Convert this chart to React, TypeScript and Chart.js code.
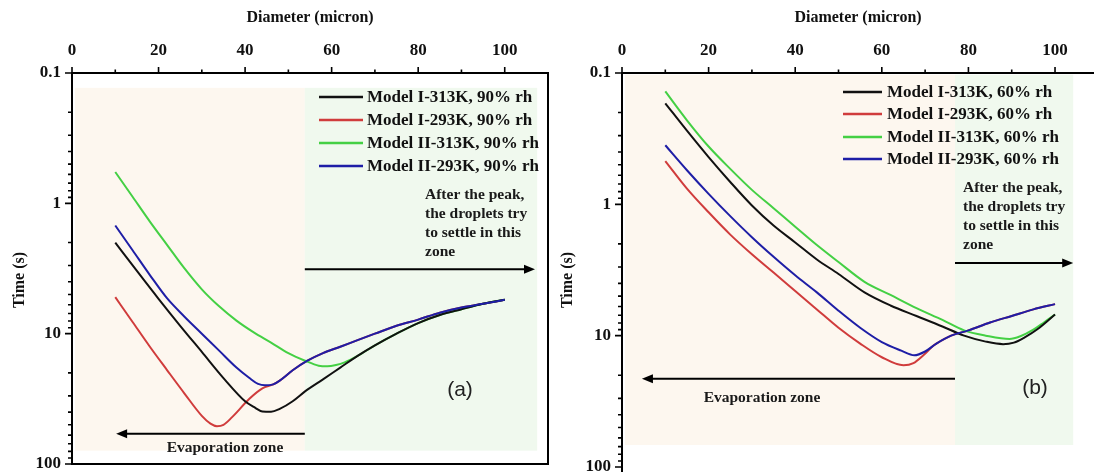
import { useEffect, useRef } from "react";
import { Chart, registerables } from "chart.js";

Chart.register(...registerables);

// ---------- axes ----------
const DIAMETER_TICKS = [0, 20, 40, 60, 80, 100];
const DIAMETER_MINOR = [10, 30, 50, 70, 90];
const TIME_TICKS = [0.1, 1, 10, 100];

// ---------- series names ----------
const LABELS_90 = [
  "Model I-313K, 90% rh",
  "Model I-293K, 90% rh",
  "Model II-313K, 90% rh",
  "Model II-293K, 90% rh",
];
const LABELS_60 = [
  "Model I-313K, 60% rh",
  "Model I-293K, 60% rh",
  "Model II-313K, 60% rh",
  "Model II-293K, 60% rh",
];

// ---------- panel (a): 90% rh, diameter (micron) vs time (s) ----------
const A_I313_D = [10, 15, 20, 25, 30, 35, 40, 42, 44, 46, 48, 51, 54, 58, 62, 66, 70, 75, 80, 85, 90, 95, 100];
const A_I313_T = [2.0, 3.3, 5.4, 8.7, 13.8, 21.9, 33.0, 36.5, 39.5, 39.8, 37.8, 33.0, 27.5, 22.4, 18.2, 14.8, 12.3, 10.0, 8.3, 7.2, 6.5, 5.9, 5.5];

const A_I293_D = [10, 14, 18, 22, 26, 30, 32, 33.5, 35, 37, 41, 44, 46.5, 48, 51, 54.3, 58, 62, 66, 70, 75, 80, 85, 90, 95, 100];
const A_I293_T = [5.25, 8.13, 12.6, 19.1, 28.8, 42.7, 49.0, 51.3, 50.1, 43.7, 31.6, 26.3, 24.5, 22.9, 19.1, 16.2, 14.1, 12.6, 11.2, 10.0, 8.7, 7.8, 6.9, 6.3, 5.9, 5.5];

const A_II313_D = [10, 14, 18, 22, 26, 30, 34, 38, 42, 46, 50, 54, 57, 59, 61, 63, 66, 70, 75, 80, 85, 90, 95, 100];
const A_II313_T = [0.575, 0.89, 1.38, 2.09, 3.16, 4.57, 6.17, 7.94, 9.77, 11.7, 14.1, 16.2, 17.6, 17.8, 17.4, 16.6, 14.8, 12.3, 10.0, 8.3, 7.2, 6.5, 5.9, 5.5];

const A_II293_D = [10, 14, 18, 22, 26, 30, 34, 38, 41, 43, 44.6, 46.5, 48, 51, 54.3, 58, 62, 66, 70, 75, 80, 85, 90, 95, 100];
const A_II293_T = [1.48, 2.29, 3.55, 5.37, 7.41, 10.0, 13.5, 18.2, 21.9, 24.3, 24.9, 24.5, 22.9, 19.1, 16.2, 14.1, 12.6, 11.2, 10.0, 8.7, 7.8, 6.9, 6.3, 5.9, 5.5];

// ---------- panel (b): 60% rh ----------
const B_I313_D = [10, 15, 20, 25, 30, 35, 40, 45, 50, 56, 62, 68, 74, 79, 84, 88, 90.5, 93, 96, 100];
const B_I313_T = [0.17, 0.275, 0.437, 0.676, 1.02, 1.45, 1.95, 2.63, 3.39, 4.68, 5.89, 7.08, 8.51, 10.0, 11.1, 11.6, 11.3, 10.3, 8.9, 6.9];

const B_I293_D = [10, 15, 20, 25, 30, 35, 40, 45, 50, 55, 60, 65, 67.3, 69.6, 71.8, 72.6, 76, 80, 85, 90, 95, 100];
const B_I293_T = [0.468, 0.759, 1.15, 1.7, 2.4, 3.31, 4.57, 6.31, 8.71, 11.5, 14.6, 16.8, 16.2, 14.1, 12.0, 11.5, 10.0, 9.12, 7.94, 7.08, 6.31, 5.75];

const B_II313_D = [10, 15, 20, 25, 30, 35, 40, 45, 50, 56, 62, 68, 74, 79, 84, 89.5, 92, 95, 97.5, 100];
const B_II313_T = [0.138, 0.229, 0.363, 0.537, 0.776, 1.07, 1.48, 2.04, 2.75, 3.89, 4.9, 6.17, 7.59, 9.12, 10.0, 10.6, 10.1, 9.0, 7.9, 6.9];

const B_II293_D = [10, 15, 20, 25, 30, 35, 40, 45, 50, 55, 60, 64.5, 67.5, 70, 72.6, 76, 80, 85, 90, 95, 100];
const B_II293_T = [0.355, 0.55, 0.832, 1.23, 1.78, 2.51, 3.47, 4.68, 6.46, 8.71, 11.2, 13.0, 14.1, 13.2, 11.5, 10.0, 9.12, 7.94, 7.08, 6.31, 5.75];

// ---------- styling ----------
const SERIF = "'Liberation Serif', 'Times New Roman', serif";
const SANS = "'Liberation Sans', Arial, sans-serif";
const COLORS = ["#111111", "#d03c3c", "#44d044", "#1e1ea6"];
// blue drawn on top, then black, green, red
const DRAW_ORDER = [1, 3, 2, 0];
const PEACH = "#fdf7ef";
const MINT = "#f0f9ee";

type Series = { d: number[]; t: number[] };

type Decor = {
  zone: { from: number; split: number; to: number; top: number; bottom: number };
  arrows: { y: number; from: number; to: number }[];
  note: { x: number; rows: number[]; lines: string[] };
  evap: { x: number; y: number };
  tag: { text: string; x: number; y: number };
  legend: { x0: number; x1: number; tx: number; rows: number[] };
  yTitle: { x: number; y: number };
  boxed: boolean;
};

type PanelSpec = {
  left: number;
  width: number;
  height: number;
  axisLeft: number;
  axisTop: number;
  padRight: number;
  padBottom: number;
  xMax: number;
  labels: string[];
  series: Series[];
  decor: Decor;
};

const AFTER_PEAK = ["After the peak,", "the droplets try", "to settle in this", "zone"];

function decorPlugin(dec: Decor) {
  return {
    id: "decor",
    beforeDatasetsDraw(chart: any) {
      const { ctx } = chart;
      const xs = chart.scales.x;
      const ys = chart.scales.y;
      const z = dec.zone;
      const x0 = xs.getPixelForValue(z.from);
      const xm = xs.getPixelForValue(z.split);
      const x1 = xs.getPixelForValue(z.to);
      const y0 = ys.getPixelForValue(z.top);
      const y1 = ys.getPixelForValue(z.bottom);
      ctx.save();
      ctx.fillStyle = PEACH;
      ctx.fillRect(x0, y0, xm - x0, y1 - y0);
      ctx.fillStyle = MINT;
      ctx.fillRect(xm, y0, x1 - xm, y1 - y0);
      ctx.restore();
    },
    afterDatasetsDraw(chart: any) {
      const { ctx, chartArea } = chart;
      const xs = chart.scales.x;
      const ys = chart.scales.y;
      const { left, top, right, bottom } = chartArea;
      ctx.save();

      // zone arrows
      ctx.strokeStyle = "#000";
      ctx.fillStyle = "#000";
      ctx.lineWidth = 2;
      for (const a of dec.arrows) {
        const py = ys.getPixelForValue(a.y);
        const pf = xs.getPixelForValue(a.from);
        const pt = xs.getPixelForValue(a.to);
        const dir = pt > pf ? 1 : -1;
        ctx.beginPath();
        ctx.moveTo(pf, py);
        ctx.lineTo(pt - dir * 8, py);
        ctx.stroke();
        ctx.beginPath();
        ctx.moveTo(pt, py);
        ctx.lineTo(pt - dir * 11, py - 4.5);
        ctx.lineTo(pt - dir * 11, py + 4.5);
        ctx.closePath();
        ctx.fill();
      }

      // zone notes
      ctx.fillStyle = "#1a1a1a";
      ctx.textBaseline = "middle";
      ctx.font = `bold 15.5px ${SERIF}`;
      ctx.textAlign = "left";
      dec.note.lines.forEach((s, i) => ctx.fillText(s, dec.note.x, dec.note.rows[i]));
      ctx.textAlign = "center";
      ctx.fillText("Evaporation zone", dec.evap.x, dec.evap.y);

      ctx.font = `21px ${SANS}`;
      ctx.fillStyle = "#222";
      ctx.fillText(dec.tag.text, dec.tag.x, dec.tag.y);

      // legend
      ctx.save();
      ctx.beginPath();
      ctx.rect(left, top, right - left, bottom - top);
      ctx.clip();
      ctx.textAlign = "left";
      ctx.font = `bold 17px ${SERIF}`;
      chart.data.datasets.forEach((ds: any, i: number) => {
        const y = dec.legend.rows[i];
        ctx.strokeStyle = ds.borderColor;
        ctx.lineWidth = 2.5;
        ctx.beginPath();
        ctx.moveTo(dec.legend.x0, y);
        ctx.lineTo(dec.legend.x1, y);
        ctx.stroke();
        ctx.fillStyle = "#111";
        ctx.fillText(ds.label, dec.legend.tx, y + 1);
      });
      ctx.restore();

      // axis frame
      ctx.strokeStyle = "#000";
      ctx.lineWidth = 2;
      ctx.beginPath();
      if (dec.boxed) {
        ctx.rect(left, top, right - left, bottom - top);
      } else {
        ctx.moveTo(left, bottom + 8);
        ctx.lineTo(left, top);
        ctx.lineTo(right, top);
      }
      ctx.stroke();

      // tick marks (outward)
      ctx.lineWidth = 1.6;
      ctx.beginPath();
      for (const v of DIAMETER_TICKS) {
        const px = xs.getPixelForValue(v);
        ctx.moveTo(px, top + 1);
        ctx.lineTo(px, top - 6);
      }
      for (const v of DIAMETER_MINOR) {
        const px = xs.getPixelForValue(v);
        ctx.moveTo(px, top);
        ctx.lineTo(px, top - 3.5);
      }
      for (let d = 0.1; d < 99; d *= 10) {
        for (let k = 1; k <= 10; k++) {
          const v = d * k;
          if (v > 100.0001) continue;
          const py = ys.getPixelForValue(v);
          const major = k === 1 || k === 10;
          ctx.moveTo(left, py);
          ctx.lineTo(left - (major ? 7 : 4), py);
        }
      }
      ctx.stroke();

      // vertical axis title
      ctx.save();
      ctx.translate(dec.yTitle.x, dec.yTitle.y);
      ctx.rotate(-Math.PI / 2);
      ctx.textAlign = "center";
      ctx.textBaseline = "middle";
      ctx.font = `bold 16px ${SERIF}`;
      ctx.fillStyle = "#111";
      ctx.fillText("Time (s)", 0, 0);
      ctx.restore();

      ctx.restore();
    },
  };
}

function buildConfig(p: PanelSpec): any {
  const datasets = p.series.map((s, i) => ({
    label: p.labels[i],
    data: s.d.map((d, j) => ({ x: d, y: s.t[j] })),
    borderColor: COLORS[i],
    backgroundColor: COLORS[i],
    borderWidth: 2,
    pointRadius: 0,
    tension: 0.4,
    cubicInterpolationMode: "monotone",
    fill: false,
    order: DRAW_ORDER[i],
  }));
  const tickFont = { family: SERIF, weight: "bold", size: 17 };
  return {
    type: "line",
    data: { datasets },
    options: {
      animation: false,
      responsive: false,
      maintainAspectRatio: false,
      events: [],
      layout: { padding: { left: 0, top: 0, right: p.padRight, bottom: p.padBottom } },
      plugins: { legend: { display: false }, tooltip: { enabled: false } },
      scales: {
        x: {
          type: "linear",
          position: "top",
          min: 0,
          max: p.xMax,
          afterBuildTicks: (s: any) => {
            s.ticks = DIAMETER_TICKS.map((v) => ({ value: v }));
          },
          afterFit: (s: any) => {
            s.height = p.axisTop;
            s.paddingLeft = 0;
            s.paddingRight = 0;
          },
          grid: { display: false, drawTicks: false },
          border: { display: false },
          ticks: { color: "#111", font: tickFont, padding: 12, maxRotation: 0, callback: (v: any) => String(v) },
          title: {
            display: true,
            text: "Diameter (micron)",
            color: "#111",
            font: { family: SERIF, weight: "bold", size: 16 },
            padding: { top: 8, bottom: 0 },
          },
        },
        y: {
          type: "logarithmic",
          position: "left",
          reverse: true,
          min: 0.1,
          max: 100,
          afterBuildTicks: (s: any) => {
            s.ticks = TIME_TICKS.map((v) => ({ value: v }));
          },
          afterFit: (s: any) => {
            s.width = p.axisLeft;
            s.paddingTop = 0;
            s.paddingBottom = 0;
          },
          grid: { display: false, drawTicks: false },
          border: { display: false },
          ticks: { color: "#111", font: tickFont, padding: 11, callback: (v: any) => String(v) },
        },
      },
    },
    plugins: [decorPlugin(p.decor)],
  };
}

const PANEL_A: PanelSpec = {
  left: 0,
  width: 556,
  height: 472,
  axisLeft: 72,
  axisTop: 73,
  padRight: 8,
  padBottom: 8,
  xMax: 110,
  labels: LABELS_90,
  series: [
    { d: A_I313_D, t: A_I313_T },
    { d: A_I293_D, t: A_I293_T },
    { d: A_II313_D, t: A_II313_T },
    { d: A_II293_D, t: A_II293_T },
  ],
  decor: {
    zone: { from: 0.7, split: 53.8, to: 107.5, top: 0.13, bottom: 79 },
    arrows: [
      { y: 3.2, from: 53.8, to: 107 },
      { y: 58.5, from: 53.8, to: 10.2 },
    ],
    note: { x: 425, rows: [195, 214, 233, 252], lines: AFTER_PEAK },
    evap: { x: 225, y: 448 },
    tag: { text: "(a)", x: 460, y: 390 },
    legend: { x0: 319, x1: 363, tx: 367, rows: [97, 120, 143, 166] },
    yTitle: { x: 20, y: 280 },
    boxed: true,
  },
};

const PANEL_B: PanelSpec = {
  left: 552,
  width: 542,
  height: 472,
  axisLeft: 70,
  axisTop: 73,
  padRight: 0,
  padBottom: 5,
  xMax: 109,
  labels: LABELS_60,
  series: [
    { d: B_I313_D, t: B_I313_T },
    { d: B_I293_D, t: B_I293_T },
    { d: B_II313_D, t: B_II313_T },
    { d: B_II293_D, t: B_II293_T },
  ],
  decor: {
    zone: { from: 0.7, split: 76.9, to: 104.2, top: 0.103, bottom: 68 },
    arrows: [
      { y: 2.8, from: 76.9, to: 104.2 },
      { y: 21.3, from: 76.9, to: 4.6 },
    ],
    note: { x: 411, rows: [188, 207, 226, 245], lines: AFTER_PEAK },
    evap: { x: 210, y: 398 },
    tag: { text: "(b)", x: 483, y: 388 },
    legend: { x0: 291, x1: 330, tx: 335, rows: [92, 114, 137, 159] },
    yTitle: { x: 16, y: 280 },
    boxed: false,
  },
};

function Panel({ spec }: { spec: PanelSpec }) {
  const ref = useRef<HTMLCanvasElement>(null);
  useEffect(() => {
    if (!ref.current) return;
    const chart = new Chart(ref.current, buildConfig(spec));
    return () => chart.destroy();
  }, [spec]);
  return (
    <canvas
      ref={ref}
      width={spec.width}
      height={spec.height}
      style={{
        position: "absolute",
        left: spec.left,
        top: 0,
        width: spec.width,
        height: spec.height,
      }}
    />
  );
}

export default function App() {
  return (
    <div
      style={{
        position: "fixed",
        left: 0,
        top: 0,
        width: 1094,
        height: 472,
        background: "#ffffff",
        overflow: "hidden",
      }}
    >
      <Panel spec={PANEL_A} />
      <Panel spec={PANEL_B} />
    </div>
  );
}
